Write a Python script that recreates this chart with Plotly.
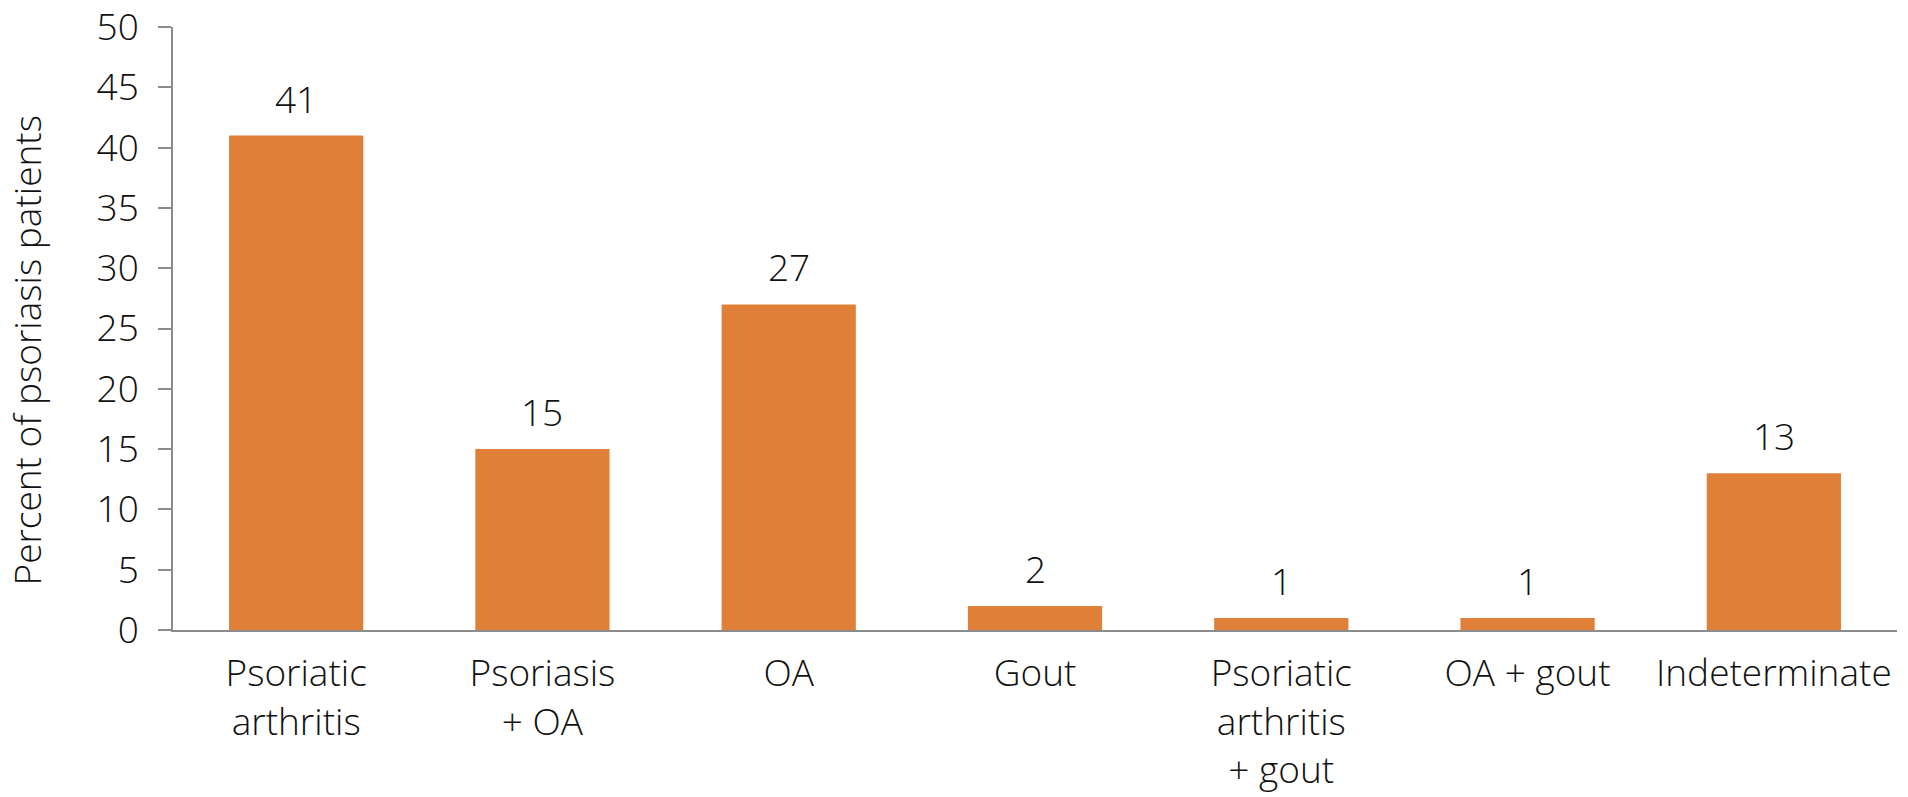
import plotly.graph_objects as go

categories = [
    "Psoriatic<br>arthritis",
    "Psoriasis<br>+ OA",
    "OA",
    "Gout",
    "Psoriatic<br>arthritis<br>+ gout",
    "OA + gout",
    "Indeterminate",
]
percent_values = [41, 15, 27, 2, 1, 1, 13]
y_ticks = [0, 5, 10, 15, 20, 25, 30, 35, 40, 45, 50]

BAR_COLOR = "#E07F37"
AXIS_COLOR = "#8C8C8C"
FONT = dict(family="Open Sans, Lato, sans-serif", size=37, color="#111111", weight=300)

fig = go.Figure(
    go.Bar(
        x=categories,
        y=percent_values,
        marker=dict(color=BAR_COLOR, line=dict(width=0)),
        width=0.545,
    )
)

# value labels above each bar
for cat, val in zip(categories, percent_values):
    fig.add_annotation(
        x=cat, y=val, xref="x", yref="y",
        text=str(val), showarrow=False,
        yanchor="bottom", yshift=10,
        font=FONT,
    )

# y-axis title
fig.add_annotation(
    text="Percent of psoriasis patients",
    xref="paper", yref="paper", x=0, y=0.5,
    xanchor="center", yanchor="middle",
    xshift=-147, yshift=-22, textangle=-90,
    showarrow=False, font=FONT,
)

fig.update_layout(
    width=1908, height=797,
    margin=dict(l=173, r=11, t=27, b=167, autoexpand=False),
    paper_bgcolor="white", plot_bgcolor="white",
    font=FONT,
    showlegend=False,
    xaxis=dict(
        showline=True, linecolor=AXIS_COLOR, linewidth=2,
        ticks="", showgrid=False, tickfont=FONT,
        ticklabelstandoff=10, automargin=False,
        ticklabeloverflow="allow",
    ),
    yaxis=dict(
        range=[0, 50], tickvals=y_ticks,
        showline=True, linecolor=AXIS_COLOR, linewidth=1.5,
        ticks="outside", ticklen=13, tickcolor=AXIS_COLOR, tickwidth=1.5,
        showgrid=False, zeroline=False, tickfont=FONT,
        ticklabelstandoff=12, automargin=False,
        ticklabeloverflow="allow",
    ),
)

fig.write_html("out.html")
